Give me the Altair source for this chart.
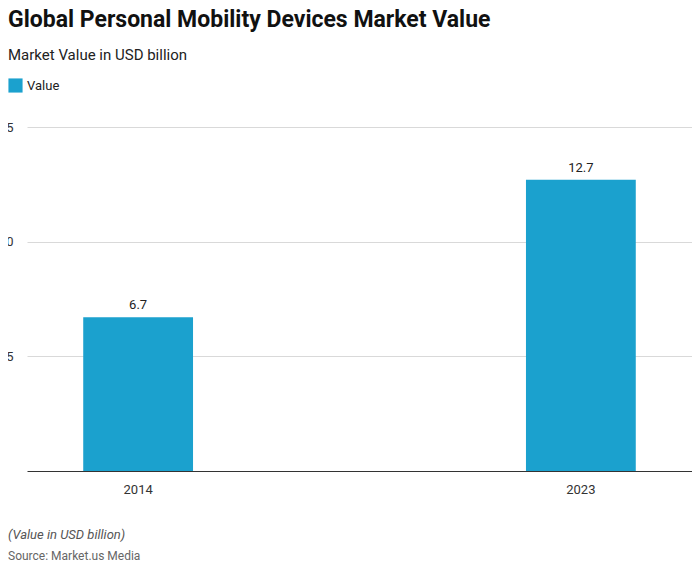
import altair as alt
import pandas as pd

years = ["2014", "2023"]
values = [6.7, 12.7]
series = ["Value", "Value"]

df = pd.DataFrame({"year": years, "value": values, "series": series})

base = alt.Chart(df).encode(
    x=alt.X("year:N", title=None,
            scale=alt.Scale(paddingInner=0.752, paddingOuter=0.127),
            axis=alt.Axis(labelAngle=0, labelFontSize=13, labelColor="#333",
                          domainColor="#333", ticks=False, labelPadding=12)),
    y=alt.Y("value:Q", title=None,
            scale=alt.Scale(domain=[0, 15]),
            axis=alt.Axis(values=[5, 10, 15], labelFontSize=13, labelColor="#333",
                          domain=False, ticks=False, gridColor="#d9d9d9",
                          labelPadding=14)),
)

bars = base.mark_bar(color="#1ba1ce").encode(
    color=alt.Color("series:N", scale=alt.Scale(range=["#1ba1ce"]),
                    legend=alt.Legend(title=None, orient="none", legendX=-19, legendY=-49,
                                      symbolType="square", symbolSize=200,
                                      symbolStrokeWidth=0,
                                      labelFontSize=13, labelColor="#222"))
)
labels = base.mark_text(dy=-12, fontSize=13, color="#222").encode(text=alt.Text("value:Q", format=".1f"))


def caption(text, y, **kw):
    return alt.Chart(df).transform_filter("datum.year == '2014'").mark_text(
        align="left", baseline="middle", **kw).encode(
        x=alt.value(-19), y=alt.value(y), text=alt.value(text))


title = caption("Global Personal Mobility Devices Market Value", -107,
                fontSize=23, fontWeight="bold", color="#111")
subtitle = caption("Market Value in USD billion", -72, fontSize=15, color="#222")
note = caption("(Value in USD billion)", 408, fontSize=13, fontStyle="italic", color="#555")
src = caption("Source: Market.us Media", 429, fontSize=12, color="#666")

chart = alt.layer(bars, labels, title, subtitle, note, src).properties(
    width=665, height=344,
    padding={"left": 19, "top": 119, "right": 0, "bottom": 90},
    autosize=alt.AutoSizeParams(type="none"),
).configure(font="Roboto").configure_view(strokeWidth=0)

chart.save("out.html", embed_options={"renderer": "svg", "actions": False})
